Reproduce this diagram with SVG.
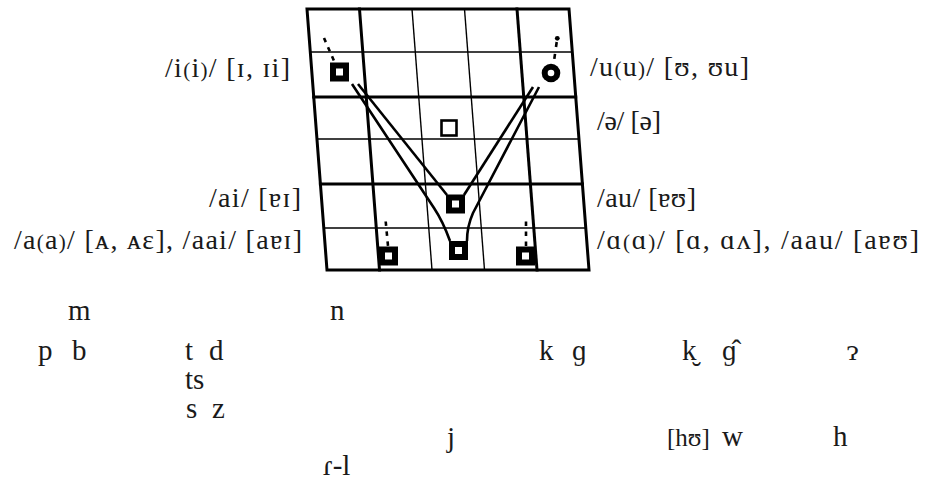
<svg xmlns="http://www.w3.org/2000/svg" width="925" height="481" viewBox="0 0 925 481">
<style>
.thick{stroke:#000;stroke-width:3;fill:none;stroke-linecap:square}
.thin{stroke:#000;stroke-width:1.4;fill:none}
.dip{stroke:#000;stroke-width:2.6;fill:none;stroke-linejoin:round}
.dash{stroke:#000;stroke-width:2.6;fill:none;stroke-dasharray:4.5 5.5}
.blk{fill:#000}
.hole{fill:#fff}
</style>
<rect width="925" height="481" fill="#fff"/>
<g id="chart">
<line class="thin" x1="310.3" y1="52" x2="572.3" y2="52"/>
<line class="thin" x1="317" y1="139" x2="579" y2="139"/>
<line class="thin" x1="323.8" y1="228" x2="585.8" y2="228"/>
<line class="thin" x1="412" y1="9" x2="432" y2="270"/>
<line class="thin" x1="464.5" y1="9" x2="484.5" y2="270"/>
<line class="thick" x1="313.7" y1="97" x2="575.7" y2="97"/>
<line class="thick" x1="320.4" y1="184" x2="582.4" y2="184"/>
<line class="thick" x1="359.5" y1="9" x2="379.5" y2="270"/>
<line class="thick" x1="517" y1="9" x2="537" y2="270"/>
<polygon class="thick" points="307,9 569,9 589,270 327,270"/>
</g>
<g id="connectors">
<path class="dip" d="M358,84 L447,195"/>
<path class="dip" d="M352,84 L434,208 C440,217 445,227 450,241"/>
<path class="dip" d="M533,87 L464,195"/>
<path class="dip" d="M539,87 L473,213 C469,222 467,231 467,241"/>
<line class="dash" x1="324" y1="38" x2="334.5" y2="62"/>
<circle class="blk" cx="557.3" cy="38.3" r="2.4"/>
<line class="dash" x1="556.7" y1="42" x2="554" y2="61" style="stroke-dasharray:5 7"/>
<line class="dash" x1="385.7" y1="221.5" x2="388" y2="246"/>
<line class="dash" x1="526" y1="221.5" x2="526" y2="246"/>
</g>
<g id="v-i"><rect class="blk" x="330" y="62.5" width="19" height="19"/><rect class="hole" x="336" y="68.5" width="7" height="7"/></g>
<g id="v-u"><circle class="blk" cx="551" cy="73" r="9.3"/><circle class="hole" cx="551" cy="73" r="3.3"/></g>
<g id="v-schwa"><rect x="441.5" y="120.5" width="15" height="15" fill="#fff" stroke="#000" stroke-width="2.6"/></g>
<g id="v-ai-au"><rect class="blk" x="446" y="194.5" width="19" height="19"/><rect class="hole" x="452" y="200.5" width="7" height="7"/></g>
<g id="v-a-center"><rect class="blk" x="449" y="241" width="19" height="19"/><rect class="hole" x="455" y="247" width="7" height="7"/></g>
<g id="v-a-left"><rect class="blk" x="379" y="246.5" width="19" height="19"/><rect class="hole" x="385" y="252.5" width="7" height="7"/></g>
<g id="v-a-right"><rect class="blk" x="516" y="246.5" width="19" height="19"/><rect class="hole" x="522" y="252.5" width="7" height="7"/></g>
<g id="labels" font-family="'Liberation Serif', serif" font-size="28" fill="#1a1a1a">
<text x="290" y="77" text-anchor="end" textLength="125">/i<tspan font-size="21">(</tspan>i<tspan font-size="21">)</tspan>/ [ɪ, ɪi]</text>
<text x="301" y="207" text-anchor="end" textLength="92">/ai/ [ɐɪ]</text>
<text x="302" y="249" text-anchor="end" textLength="288">/a<tspan font-size="21">(</tspan>a<tspan font-size="21">)</tspan>/ [ᴀ, ᴀɛ], /aai/ [aɐɪ]</text>
<text x="590" y="76" textLength="159">/u<tspan font-size="21">(</tspan>u<tspan font-size="21">)</tspan>/ [ʊ, ʊu]</text>
<text x="597" y="130" textLength="64">/ə/ [ə]</text>
<text x="597" y="207" textLength="99">/au/ [ɐʊ]</text>
<text x="597" y="249" textLength="322">/ɑ<tspan font-size="21">(</tspan>ɑ<tspan font-size="21">)</tspan>/ [ɑ, ɑʌ], /aau/ [aɐʊ]</text>
</g>
<g id="consonants" font-family="'Liberation Serif', serif" font-size="29" fill="#1a1a1a">
<text x="68" y="320">m</text>
<text x="330" y="320">n</text>
<text x="38" y="360">p</text>
<text x="72" y="360">b</text>
<text x="185" y="360">t</text>
<text x="209" y="360">d</text>
<text x="539" y="360">k</text>
<text x="572" y="360">ɡ</text>
<text x="682" y="360">k̮</text>
<text x="722" y="360">ɡ̂</text>
<text x="847" y="360">ɂ</text>
<text x="185" y="389">ts</text>
<text x="186" y="418">s</text>
<text x="212" y="418">z</text>
<text x="447" y="447">j</text>
<text x="667" y="446" font-size="25">[hʊ]</text>
<text x="722" y="446">w</text>
<text x="833" y="446">h</text>
<text x="323" y="475">ɾ-l</text>
</g>
</svg>
